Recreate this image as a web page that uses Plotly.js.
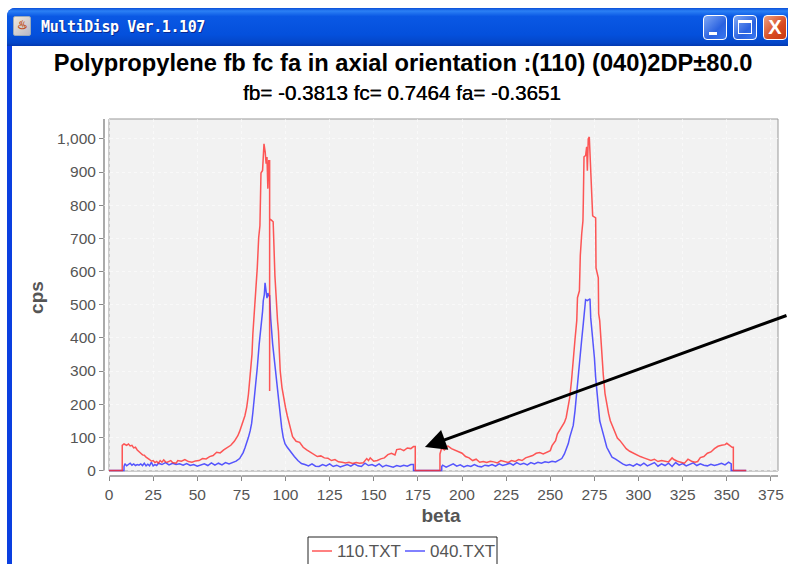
<!DOCTYPE html>
<html><head><meta charset="utf-8">
<script src="https://cdn.plot.ly/plotly-3.0.1.min.js"></script>
<style>
html,body{margin:0;padding:0;background:#fff;width:788px;height:564px;overflow:hidden}
#win{position:absolute;left:7px;top:8px;width:790px;height:570px;background:#0a3fe0;border-radius:8px 8px 0 0}
#bar{position:absolute;left:0;top:0;right:0;height:38px;border-radius:8px 8px 0 0;background:linear-gradient(#0a4fd8 0,#2b80f5 8%,#0a58e4 22%,#0450dc 70%,#0446c8 92%,#0338b0 100%)}
#client{position:absolute;left:5px;top:38px;right:0;bottom:0;background:#fff}
#cap{position:absolute;left:34px;top:10px;color:#fff;font:bold 15px "DejaVu Sans Mono","Liberation Mono",monospace;letter-spacing:-.4px;white-space:nowrap;text-shadow:1px 1px 0 #0a2a90}
#ico{position:absolute;left:6px;top:8px;width:16px;height:18px;background:linear-gradient(135deg,#f0e8d8,#b8b8c8);border:1px solid #9ab;border-radius:2px;color:#c05020;font:bold 12px "Liberation Sans";text-align:center;line-height:17px}
.btn{position:absolute;top:7px;width:24px;height:25px;border:1px solid #fff;border-radius:4px;box-sizing:border-box;background:linear-gradient(135deg,#7fa8f5,#2a62e0 60%,#3a78f0)}
#b1{left:696px}#b2{left:726px}
#b3{left:756px;background:linear-gradient(135deg,#eea080,#d84a20 60%,#c83a10);color:#fff;font:bold 20px "Liberation Sans";text-align:center;line-height:23px}
#b1:after{content:"";position:absolute;left:5px;bottom:4px;width:8px;height:3px;background:#fff}
#b2:after{content:"";position:absolute;left:4px;top:4px;width:14px;height:14px;border:1px solid #fff;border-top-width:3px;box-sizing:border-box}
#chart{position:absolute;left:0;top:0;width:788px;height:564px}
</style></head><body>
<div id="win"><div id="bar"><div id="ico">&#9832;</div><div id="cap">MultiDisp Ver.1.107</div>
<div class="btn" id="b1"></div><div class="btn" id="b2"></div><div class="btn" id="b3">X</div></div><div id="client"></div></div>
<div id="chart"></div>
<script>
const seriesNames = ['110.TXT', '040.TXT'];
const chartTitle = 'Polypropylene fb fc fa in axial orientation :(110) (040)2DP±80.0';
const chartSubtitle = 'fb= -0.3813 fc= 0.7464 fa= -0.3651';

const beta110 = [0,7.5,7.5,8.5,10,11,12,13,14,15,16,17,18,19,20,21,22,23,24,25,26,27,28,29,30,31,32,33,35,36,38,39,41,43,45,47,49,51,53,55,57,59,61,63,65,67,69,71,73,74,75,76,77,78,79,80,81,81.5,82,82.7,83.2,84,84.8,85.5,86.1,87,87.8,88.5,89,89.5,90,90.5,91,91,91,92,93,94,94.8,95.5,96,96.5,97,98,99,100,101,102,103,104,105,106,108,110,112,114,116,118,120,122,124,126,128,130,132,134,136,138,140,142,144,146,147,148,150,152,154,156,158,160,162,163,165,167,169,171,172.5,173.5,173.5,187.5,187.5,188.5,190,192,194,196,198,200,202,204,206,208,210,212,214,216,218,220,222,224,226,228,230,232,234,236,238,240,242,244,246,248,250,251,253,254,256,257,258,259,260,261,262,263,264,265,265.4,266.5,267,267.8,268.5,268.7,269.1,270,270.6,271,271.5,272.1,272.6,273,273.5,274,275.7,275.9,277.2,277.4,278,278.5,279.5,280,281,282,283,284,285,286,287,288,289.5,291,293,295,297,299,301,303,305,307,309,311,313,315,317,319,320,322,324,326,328,330,332,333.5,335,337,339,341,343,345,347,349,350,351,352,353,353.7,353.7,361];
const cps110 = [0,0,76,80,76,80,74,76,68,70,62,58,52,47,46,40,37,33,28,30,24,27,22,30,25,32,26,25,30,24,22,30,28,33,27,25,29,30,36,35,42,45,55,53,62,68,76,88,105,118,135,145,165,190,230,290,350,412,450,512,563,611,702,738,897,905,985,960,925,945,850,934,934,240,759,755,750,587,490,450,420,340,300,250,215,190,165,145,120,102,95,88,85,70,62,56,50,42,44,38,37,30,33,26,25,23,25,21,24,22,23,36,30,38,28,30,35,38,48,52,47,63,65,60,68,66,72,72,0,0,50,68,62,74,66,62,58,52,42,38,30,34,25,27,24,28,26,23,30,26,24,30,27,33,30,38,42,45,52,54,50,56,60,75,90,110,127,135,145,160,190,220,270,322,395,452,521,542,648,714,753,807,946,950,976,904,1000,1006,943,920,849,768,762,611,581,473,452,412,310,290,232,200,172,150,136,125,112,98,90,78,66,58,52,48,42,38,34,30,34,27,30,27,26,38,33,28,24,22,34,28,25,27,39,42,52,56,66,73,76,78,82,78,75,70,70,0,0];

const beta040 = [0,8.5,8.5,9,10,11,12,13,14,15,16,17,18,19,20,21,22,23,24,25,26,27,28,30,32,34,36,38,40,42,44,46,48,50,52,54,56,58,60,62,64,66,68,70,72,74,75,76,77,78,79,80,80.8,81.5,82.7,83.5,84,85.1,86,86.5,87,87.4,88,88.4,89,89.5,90,90.5,91,91.6,92.7,93.5,94.6,95.3,95.9,96.8,97.8,98.7,99.7,101,102.5,103.5,105,107,109,111,113,115,117,119,121,123,125,127,129,131,133,135,137,139,141,143,145,147,149,151,153,155,157,159,161,163,165,167,169,171,172.5,172.5,188.5,188.5,189,191,193,195,197,199,201,203,205,207,209,211,213,215,217,219,221,223,225,227,229,231,233,235,237,239,241,243,245,247,249,251,253,255,256.5,258,259,260.2,261,262,263,264,265,266,266.9,267.8,268.7,269.5,270,271,272.5,272.9,273.5,274.4,275,275.7,276.5,277.2,278,279,280,281,282,283.9,285,287,289.5,291,293,295,297,299,301,303,305,307,309,311,313,315,317,319,321,323,325,327,329,331,333,335,337,339,341,343,345,347,349,351,352.5,352.5,361];
const cps040 = [0,0,12,20,14,18,22,16,20,15,18,16,20,15,22,14,19,14,25,14,18,15,22,18,24,17,22,18,20,16,21,15,18,13,16,20,15,23,16,22,17,24,20,25,28,36,44,54,68,82,100,120,142,175,232,275,310,382,420,452,480,512,530,566,545,520,535,527,527,458,382,340,292,250,211,170,130,100,81,70,58,51,42,30,21,18,14,20,13,12,18,14,20,12,16,11,15,18,13,20,14,12,22,15,18,13,20,11,16,12,10,15,12,16,13,18,18,0,0,12,16,10,14,20,13,17,11,15,12,18,13,11,16,14,18,13,20,15,18,22,16,24,18,22,17,24,20,25,22,26,24,28,26,32,36,50,65,81,100,118,136,180,232,280,340,395,443,490,515,512,518,461,430,391,340,280,235,190,150,130,111,88,70,51,40,34,24,20,15,18,13,20,15,22,14,18,24,13,20,15,22,12,24,16,21,14,18,23,15,20,16,14,19,15,18,22,17,25,20,0,0];

const xTicks = 25, yTicks = 100;
const gridColor = 'rgba(255,255,255,0.55)', tickText = '#555555';
const redLine = 'rgba(255,45,45,0.8)', blueLine = 'rgba(45,45,255,0.8)';

// pixel position on the page to paper coordinates of the 674x357 plot area
const px = p => (p - 104) / 674;
const py = p => (476 - p) / 357;

const traces = [
  {x: beta040, y: cps040, name: seriesNames[1], mode: 'lines', line: {color: blueLine, width: 1.5}, cliponaxis: false},
  {x: beta110, y: cps110, name: seriesNames[0], mode: 'lines', line: {color: redLine, width: 1.5}, cliponaxis: false}
];
const axisFont = {family: 'Liberation Sans', size: 15.5, color: tickText};
const legendFont = {family: 'Liberation Sans', size: 17, color: tickText};
const layout = {
  width: 788, height: 564, autosize: false,
  margin: {l: 104, r: 10, t: 119, b: 88, pad: 0},
  paper_bgcolor: 'rgba(0,0,0,0)', plot_bgcolor: 'rgba(0,0,0,0)',
  font: {family: 'Liberation Sans'}, showlegend: false,
  title: {text: chartTitle, x: 0.5115, xanchor: 'center', y: 0.889, yanchor: 'middle',
          font: {family: 'Liberation Sans', size: 23.7, color: '#000', weight: 'bold'}},
  xaxis: {range: [-2.83, 379], dtick: xTicks, tick0: 0, ticks: 'outside', ticklen: 4, tickcolor: '#888', tickfont: axisFont,
          showgrid: true, gridcolor: gridColor, griddash: 'dot', gridwidth: 1, zeroline: false, showline: false,
          title: {text: 'beta', standoff: 7, font: {family: 'Liberation Sans', size: 19, color: tickText, weight: 'bold'}}},
  yaxis: {range: [-16.6, 1060], dtick: yTicks, tick0: 0, ticks: 'outside', ticklen: 4, tickcolor: '#888', tickfont: axisFont, tickformat: ',',
          showgrid: true, gridcolor: gridColor, griddash: 'dot', gridwidth: 1, zeroline: false, showline: false,
          title: {text: 'cps', standoff: 8, font: {family: 'Liberation Sans', size: 19, color: tickText, weight: 'bold'}}},
  shapes: [
    {type: 'rect', xref: 'paper', yref: 'paper', x0: px(109), x1: 1, y0: py(471), y1: 1, fillcolor: '#f2f2f2', line: {color: '#999', width: 1}, layer: 'below'},
    {type: 'line', xref: 'paper', yref: 'paper', x0: 0, x1: 0, y0: py(471), y1: 1, line: {color: '#aaa', width: 2}, layer: 'below'},
    {type: 'line', xref: 'paper', yref: 'paper', x0: px(109), x1: 1, y0: 0, y1: 0, line: {color: '#aaa', width: 2}, layer: 'below'},
    {type: 'rect', xref: 'paper', yref: 'paper', x0: px(308), x1: px(497), y0: py(570), y1: py(537), fillcolor: '#fff', line: {color: '#222', width: 1}},
    {type: 'line', xref: 'paper', yref: 'paper', x0: px(312), x1: px(332), y0: py(551), y1: py(551), line: {color: redLine, width: 1.5}},
    {type: 'line', xref: 'paper', yref: 'paper', x0: px(405), x1: px(425), y0: py(551), y1: py(551), line: {color: blueLine, width: 1.5}}
  ],
  annotations: [
    {xref: 'paper', yref: 'paper', x: px(402), y: py(92), text: chartSubtitle, showarrow: false, xanchor: 'center', yanchor: 'middle',
     font: {family: 'Liberation Sans', size: 20.6, color: '#000', shadow: '0.4px 0 0 #000'}},
    {xref: 'x', yref: 'y', x: 179, y: 71, text: '', showarrow: true, arrowhead: 2, arrowsize: 1.4, arrowwidth: 3, arrowcolor: '#000', ax: 370, ay: -132, axref: 'pixel', ayref: 'pixel', standoff: 0},
    {xref: 'paper', yref: 'paper', x: px(336), y: py(551), text: seriesNames[0], showarrow: false, xanchor: 'left', yanchor: 'middle', xshift: -1, font: legendFont},
    {xref: 'paper', yref: 'paper', x: px(429), y: py(551), text: seriesNames[1], showarrow: false, xanchor: 'left', yanchor: 'middle', xshift: -1, font: legendFont}
  ]
};
Plotly.newPlot('chart', traces, layout, {displayModeBar: false, staticPlot: true});
</script></body></html>
